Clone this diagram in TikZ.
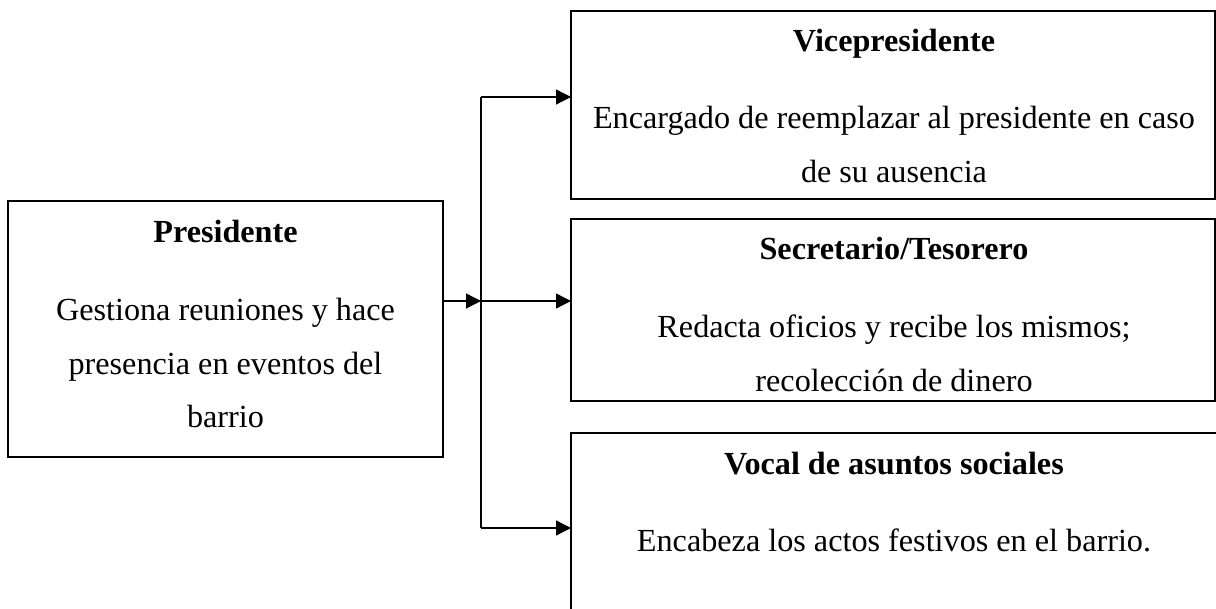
\documentclass[tikz,border=0pt]{standalone}
\usepackage{fontspec}
\setmainfont{Liberation Serif}
\usetikzlibrary{calc, arrows, arrows.meta, positioning}
\tikzstyle{org_arrow}=[line width=0.65pt,> = {Triangle[length=7.5pt,width=7.5pt]}]

\begin{document}
\begin{tikzpicture}[x=0.5pt, y=-0.5pt]
			\tikzset{box/.style = {shape=rectangle, draw, line width=0.65pt, inner sep=0pt, outer sep=0pt}}
			\tikzset{head/.style = {anchor=base, inner sep=0pt, font=\fontsize{16.1}{27}\selectfont\bfseries}}
			\tikzset{body/.style = {anchor=base, inner sep=0pt, align=center, font=\fontsize{16.1}{27}\selectfont}}
			\tikzset{arrow/.style = {org_arrow, ->}}
			\useasboundingbox (0,0) rectangle (1216,609);
			\clip (0,0) rectangle (1216,609);

			% boxes
			\node[box, minimum width=217.5pt, minimum height=128pt] (pres) at (225.5,329) {};
			\node[box, minimum width=322pt, minimum height=94pt] (vp) at (893,105) {};
			\node[box, minimum width=322pt, minimum height=91pt] (sec) at (893,310) {};
			\node[box, minimum width=323pt, minimum height=108.5pt] (voc) at (894,541.5) {};

			% texts (base = last line)
			\node[head] (presh) at (225.5,243) {Presidente};
			\node[body] (presb) at (225.5,428) {Gestiona reuniones y hace\\presencia en eventos del\\barrio};
			\node[head] (vph) at (894,52) {Vicepresidente};
			\node[body] (vpb) at (894,183) {Encargado de reemplazar al presidente en caso\\de su ausencia};
			\node[head] (sech) at (894,260) {Secretario/Tesorero};
			\node[body] (secb) at (894,392) {Redacta oficios y recibe los mismos;\\recolección de dinero};
			\node[head] (voch) at (894,474) {Vocal de asuntos sociales};
			\node[body] (vocb) at (894,551) {Encabeza los actos festivos en el barrio.};

			%arrows
			\coordinate (b1) at (481,97);
			\coordinate (b2) at (481,301);
			\coordinate (b3) at (481,528);
			\draw[org_arrow] (b1) to (b3);
			\draw[arrow] (pres.east |- b2) to (b2);
			\draw[arrow] (b1) to (b1 -| vp.west);
			\draw[arrow] (b2) to (b2 -| sec.west);
			\draw[arrow] (b3) to (b3 -| voc.west);
\end{tikzpicture}
\end{document}
